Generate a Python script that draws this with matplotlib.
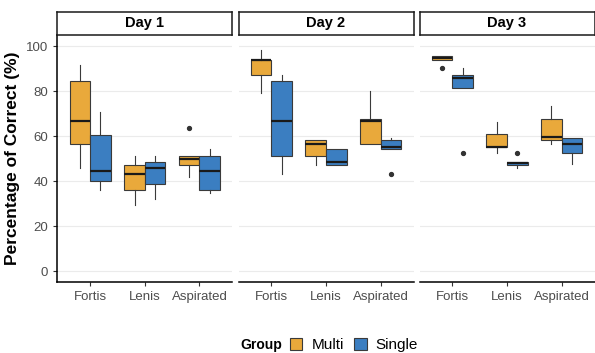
import matplotlib.pyplot as plt
from matplotlib.patches import Patch

plt.rcParams['font.family'] = ['Liberation Sans', 'DejaVu Sans']

days = ["Day 1", "Day 2", "Day 3"]
categories = ["Fortis", "Lenis", "Aspirated"]
groups = ["Multi", "Single"]
colors = {"Multi": "#E9A93B", "Single": "#3B7EC1"}

# rows: Fortis, Lenis, Aspirated -> (whislo, q1, med, q3, whishi)
multi_day1 = [[45.9, 56.7, 66.7, 84.4, 91.6],
              [29.2, 36.0, 43.0, 47.0, 51.1],
              [41.8, 47.0, 49.9, 51.1, 51.1]]
single_day1 = [[36.0, 40.1, 44.4, 60.7, 70.7],
               [31.9, 38.7, 45.9, 48.4, 51.1],
               [34.7, 36.0, 44.4, 51.1, 54.1]]
multi_day2 = [[79.0, 87.4, 94.1, 94.1, 98.2],
              [47.1, 51.3, 56.7, 58.1, 58.1],
              [56.7, 56.7, 66.7, 67.7, 80.3]]
single_day2 = [[43.0, 51.3, 66.7, 84.4, 87.1],
               [47.1, 47.1, 48.4, 54.1, 54.1],
               [54.1, 54.1, 55.3, 58.1, 59.4]]
multi_day3 = [[94.1, 94.1, 94.8, 95.7, 95.7],
              [52.6, 55.3, 55.4, 60.9, 66.4],
              [56.7, 58.1, 59.6, 67.8, 73.2]]
single_day3 = [[81.6, 81.6, 85.9, 87.4, 90.1],
               [45.8, 47.0, 48.1, 48.6, 48.6],
               [47.7, 52.6, 56.6, 59.4, 59.4]]

multi_out = [[[], [], [63.7]], [[], [], []], [[90.1], [], []]]
single_out = [[[], [], []], [[], [], [43.0]], [[52.6], [52.6], []]]

multi_stats = [multi_day1, multi_day2, multi_day3]
single_stats = [single_day1, single_day2, single_day3]

W, H = 595, 353
fig = plt.figure(figsize=(W / 100, H / 100), dpi=100)

panel_x = [57.3, 238.5, 419.5]
panel_w = 175.0
top, bottom = 35, 282.3
strip_top = 12

def to_stats(rows, outs):
    res = []
    for r, o in zip(rows, outs):
        res.append({'whislo': r[0], 'q1': r[1], 'med': r[2], 'q3': r[3],
                    'whishi': r[4], 'fliers': o})
    return res

for d, day in enumerate(days):
    ax = fig.add_axes([panel_x[d] / W, 1 - bottom / H, panel_w / W, (bottom - top) / H])
    for gi, (g, st, outs) in enumerate([("Multi", multi_stats[d], multi_out[d]),
                                        ("Single", single_stats[d], single_out[d])]):
        pos = [i + 1 + (gi - 0.5) * 0.375 for i in range(len(categories))]
        ax.bxp(to_stats(st, outs), positions=pos, widths=0.375, patch_artist=True,
               showcaps=False,
               boxprops=dict(facecolor=colors[g], edgecolor='#3a3a3a', linewidth=0.8),
               medianprops=dict(color='#1a1a1a', linewidth=1.6),
               whiskerprops=dict(color='#3a3a3a', linewidth=0.8),
               flierprops=dict(marker='o', markerfacecolor='#333333', markeredgecolor='#333333',
                               markersize=2.8),
               zorder=3)
    ax.set_xlim(0.4, 3.6)
    ax.set_ylim(-5, 105)
    ax.set_yticks([0, 20, 40, 60, 80, 100])
    ax.set_xticks([1, 2, 3])
    ax.set_xticklabels(categories)
    ax.grid(axis='y', color='#ebebeb', linewidth=0.8, zorder=0)
    ax.set_axisbelow(True)
    for s in ['top', 'right']:
        ax.spines[s].set_visible(False)
    ax.spines['bottom'].set_color('black')
    ax.spines['bottom'].set_linewidth(1.1)
    ax.tick_params(axis='both', colors='#333333', labelcolor='#4d4d4d', labelsize=9.5,
                   length=3, width=0.8)
    if d == 0:
        ax.spines['left'].set_color('black')
        ax.spines['left'].set_linewidth(1.1)
        ax.set_ylabel('Percentage of Correct (%)', fontsize=12.5, fontweight='bold', labelpad=4)
    else:
        ax.spines['left'].set_visible(False)
        ax.tick_params(axis='y', left=False, labelleft=False)

    # facet strip
    sax = fig.add_axes([panel_x[d] / W, 1 - top / H, panel_w / W, (top - strip_top) / H])
    sax.set_xticks([])
    sax.set_yticks([])
    for s in sax.spines.values():
        s.set_linewidth(1.1)
        s.set_color('#1a1a1a')
    sax.text(0.5, 0.5, day, ha='center', va='center', fontsize=10.5, fontweight='bold',
             transform=sax.transAxes)

fig.text(240 / W, 1 - 345 / H, 'Group', fontsize=10, fontweight='bold', va='center', ha='left')
handles = [Patch(facecolor=colors[g], edgecolor='#3a3a3a', linewidth=0.8, label=g) for g in groups]
fig.legend(handles=handles, loc='center left', bbox_to_anchor=(290 / W, 1 - 345 / H), ncol=2,
           frameon=False, fontsize=11, handlelength=0.8, handleheight=0.8, handletextpad=0.6,
           columnspacing=0.7, borderaxespad=0, borderpad=0)

fig.savefig('out.png', dpi=100)
